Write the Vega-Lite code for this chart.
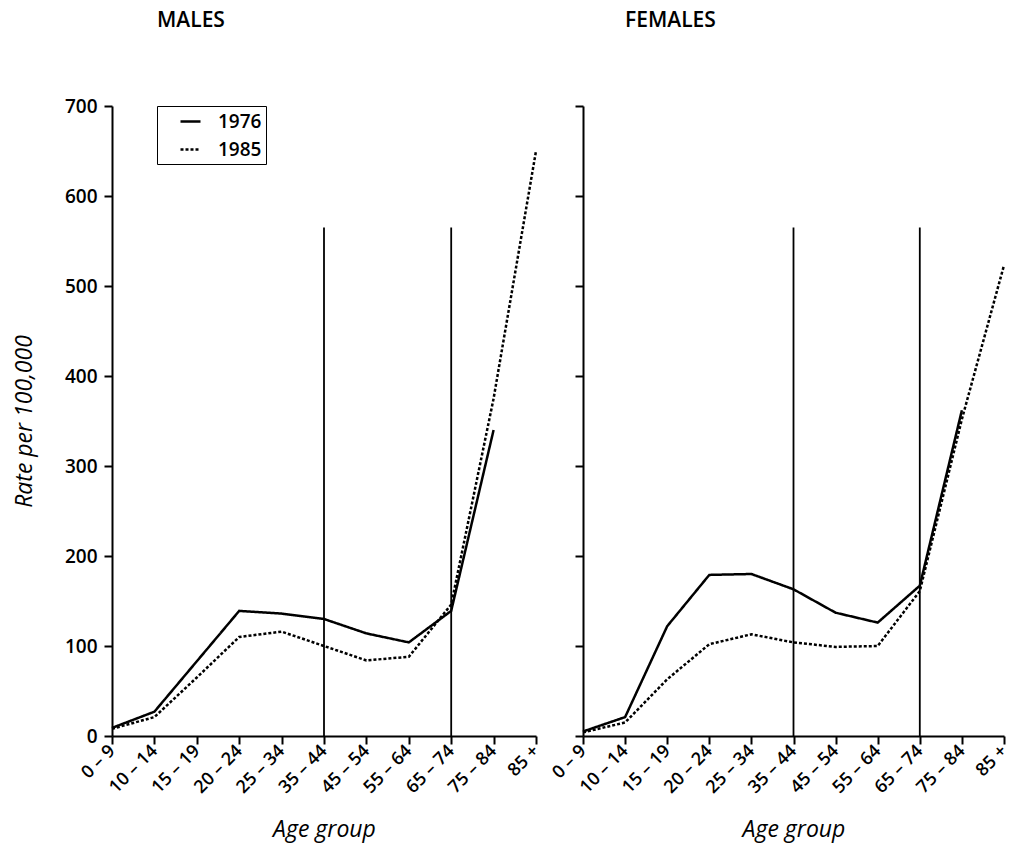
{
  "$schema": "https://vega.github.io/schema/vega-lite/v6.json",
  "background": "white",
  "padding": {"left": 13, "top": 10, "right": 5, "bottom": 5},
  "config": {
    "font": "Open Sans",
    "view": {"stroke": null},
    "axis": {
      "domainColor": "black", "domainWidth": 2, "tickColor": "black", "tickWidth": 2, "tickSize": 8,
      "labelFont": "Open Sans", "labelFontWeight": 600, "labelColor": "black", "labelFontSize": 19,
      "titleFont": "Open Sans", "titleFontStyle": "italic", "titleFontWeight": 500, "titleFontSize": 23, "titleColor": "black",
      "grid": false
    },
    "title": {"font": "Open Sans", "fontSize": 21, "fontWeight": 600, "color": "black", "anchor": "start", "frame": "group"},
    "legend": {"labelFont": "Open Sans", "labelFontSize": 19, "labelFontWeight": 600, "labelColor": "black"}
  },
  "datasets": {
    "rates": [
      {"sex": "Males", "year": "1976", "age": "0 – 9", "rate": 9},
      {"sex": "Males", "year": "1976", "age": "10 – 14", "rate": 27},
      {"sex": "Males", "year": "1976", "age": "15 – 19", "rate": 83},
      {"sex": "Males", "year": "1976", "age": "20 – 24", "rate": 139},
      {"sex": "Males", "year": "1976", "age": "25 – 34", "rate": 136},
      {"sex": "Males", "year": "1976", "age": "35 – 44", "rate": 130},
      {"sex": "Males", "year": "1976", "age": "45 – 54", "rate": 114},
      {"sex": "Males", "year": "1976", "age": "55 – 64", "rate": 104},
      {"sex": "Males", "year": "1976", "age": "65 – 74", "rate": 139},
      {"sex": "Males", "year": "1976", "age": "75 – 84", "rate": 340},
      {"sex": "Males", "year": "1985", "age": "0 – 9", "rate": 8},
      {"sex": "Males", "year": "1985", "age": "10 – 14", "rate": 21},
      {"sex": "Males", "year": "1985", "age": "15 – 19", "rate": 65},
      {"sex": "Males", "year": "1985", "age": "20 – 24", "rate": 110},
      {"sex": "Males", "year": "1985", "age": "25 – 34", "rate": 116},
      {"sex": "Males", "year": "1985", "age": "35 – 44", "rate": 100},
      {"sex": "Males", "year": "1985", "age": "45 – 54", "rate": 84},
      {"sex": "Males", "year": "1985", "age": "55 – 64", "rate": 88},
      {"sex": "Males", "year": "1985", "age": "65 – 74", "rate": 146},
      {"sex": "Males", "year": "1985", "age": "75 – 84", "rate": 375},
      {"sex": "Males", "year": "1985", "age": "85 +", "rate": 650},
      {"sex": "Females", "year": "1976", "age": "0 – 9", "rate": 5},
      {"sex": "Females", "year": "1976", "age": "10 – 14", "rate": 21},
      {"sex": "Females", "year": "1976", "age": "15 – 19", "rate": 122},
      {"sex": "Females", "year": "1976", "age": "20 – 24", "rate": 179},
      {"sex": "Females", "year": "1976", "age": "25 – 34", "rate": 180},
      {"sex": "Females", "year": "1976", "age": "35 – 44", "rate": 163},
      {"sex": "Females", "year": "1976", "age": "45 – 54", "rate": 137},
      {"sex": "Females", "year": "1976", "age": "55 – 64", "rate": 126},
      {"sex": "Females", "year": "1976", "age": "65 – 74", "rate": 167},
      {"sex": "Females", "year": "1976", "age": "75 – 84", "rate": 362},
      {"sex": "Females", "year": "1985", "age": "0 – 9", "rate": 4},
      {"sex": "Females", "year": "1985", "age": "10 – 14", "rate": 15},
      {"sex": "Females", "year": "1985", "age": "15 – 19", "rate": 63},
      {"sex": "Females", "year": "1985", "age": "20 – 24", "rate": 102},
      {"sex": "Females", "year": "1985", "age": "25 – 34", "rate": 113},
      {"sex": "Females", "year": "1985", "age": "35 – 44", "rate": 104},
      {"sex": "Females", "year": "1985", "age": "45 – 54", "rate": 99},
      {"sex": "Females", "year": "1985", "age": "55 – 64", "rate": 100},
      {"sex": "Females", "year": "1985", "age": "65 – 74", "rate": 161},
      {"sex": "Females", "year": "1985", "age": "75 – 84", "rate": 352},
      {"sex": "Females", "year": "1985", "age": "85 +", "rate": 523}
    ],
    "marks": [
      {"age": "35 – 44", "low": 0, "high": 565},
      {"age": "65 – 74", "low": 0, "high": 565}
    ]
  },
  "bounds": "flush",
  "spacing": 47,
  "resolve": {"scale": {"strokeDash": "independent"}, "legend": {"strokeDash": "independent"}},
  "hconcat": [
    {
      "title": {"text": "MALES", "dx": 45, "offset": 66},
      "width": 424,
      "height": 630,
      "layer": [
        {
          "data": {"name": "marks"},
          "mark": {"type": "rule", "color": "black", "strokeWidth": 1.8},
          "encoding": {
            "x": {"field": "age", "type": "ordinal"},
            "y": {"field": "low", "type": "quantitative"},
            "y2": {"field": "high"}
          }
        },
        {
          "data": {"name": "rates"},
          "transform": [{"filter": "datum.sex === 'Males'"}],
          "mark": {"type": "line", "color": "black", "strokeWidth": 2.5},
          "encoding": {
            "x": {
              "field": "age", "type": "ordinal",
              "scale": {"type": "point", "padding": 0, "domain": ["0 – 9", "10 – 14", "15 – 19", "20 – 24", "25 – 34", "35 – 44", "45 – 54", "55 – 64", "65 – 74", "75 – 84", "85 +"]},
              "axis": {"title": "Age group", "labelAngle": -45, "labelAlign": "right", "labelBaseline": "middle", "labelPadding": 4, "labelFontSize": 18, "titlePadding": 22}
            },
            "y": {
              "field": "rate", "type": "quantitative",
              "scale": {"domain": [0, 700], "nice": false},
              "axis": {"title": "Rate per 100,000", "values": [0, 100, 200, 300, 400, 500, 600, 700], "labelPadding": 7, "titlePadding": 28}
            },
            "strokeDash": {
              "field": "year", "type": "nominal",
              "scale": {"domain": ["1976", "1985"], "range": [[1, 0], [3, 2]]},
              "legend": {"title": null, "orient": "none", "legendX": 45, "legendY": 0, "strokeColor": "black", "padding": 4, "symbolType": "stroke", "symbolSize": 400, "symbolStrokeWidth": 2.5, "symbolStrokeColor": "black", "symbolOffset": 18, "labelOffset": 16, "rowPadding": 6, "labelLimit": 200}
            }
          }
        }
      ]
    },
    {
      "title": {"text": "FEMALES", "dx": 42, "offset": 74},
      "width": 421,
      "height": 630,
      "layer": [
        {
          "data": {"name": "marks"},
          "mark": {"type": "rule", "color": "black", "strokeWidth": 1.8},
          "encoding": {
            "x": {"field": "age", "type": "ordinal"},
            "y": {"field": "low", "type": "quantitative"},
            "y2": {"field": "high"}
          }
        },
        {
          "data": {"name": "rates"},
          "transform": [{"filter": "datum.sex === 'Females'"}],
          "mark": {"type": "line", "color": "black", "strokeWidth": 2.5},
          "encoding": {
            "x": {
              "field": "age", "type": "ordinal",
              "scale": {"type": "point", "padding": 0, "domain": ["0 – 9", "10 – 14", "15 – 19", "20 – 24", "25 – 34", "35 – 44", "45 – 54", "55 – 64", "65 – 74", "75 – 84", "85 +"]},
              "axis": {"title": "Age group", "labelAngle": -45, "labelAlign": "right", "labelBaseline": "middle", "labelPadding": 4, "labelFontSize": 18, "titlePadding": 22}
            },
            "y": {
              "field": "rate", "type": "quantitative",
              "scale": {"domain": [0, 700], "nice": false},
              "axis": {"title": null, "labels": false, "values": [0, 100, 200, 300, 400, 500, 600, 700]}
            },
            "strokeDash": {
              "field": "year", "type": "nominal",
              "scale": {"domain": ["1976", "1985"], "range": [[1, 0], [3, 2]]},
              "legend": null
            }
          }
        }
      ]
    }
  ]
}
